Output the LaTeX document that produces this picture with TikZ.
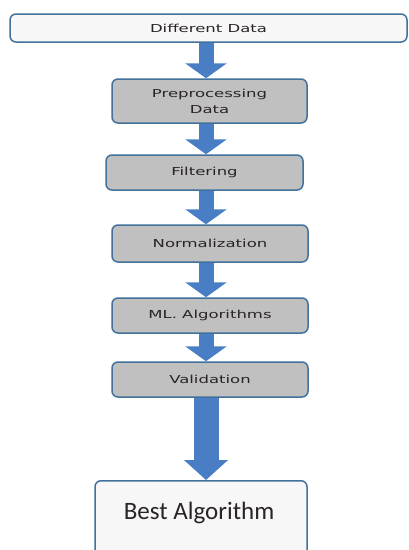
\documentclass[tikz,border=0pt]{standalone}
\usepackage{fontspec}
\setmainfont{DejaVu Sans}
\newfontfamily\bestfont{Carlito}
\usetikzlibrary{arrows.meta}
\definecolor{boxedge}{HTML}{41719C}
\definecolor{boxgray}{HTML}{C0C0C0}
\definecolor{boxlight}{HTML}{F7F7F7}
\definecolor{arrowblue}{HTML}{4A7EC4}
\definecolor{txt}{HTML}{2A2424}
\newcommand{\sx}[1]{\scalebox{1.5}[1]{#1}}
\begin{document}
\begin{tikzpicture}[x=1pt,y=-1pt,
  stepbox/.style={draw=boxedge, line width=1.5pt, rounded corners=6pt, fill=boxgray,
    minimum width=196pt, text=txt, font=\fontsize{11}{16}\selectfont, align=center, inner sep=0pt},
  lightbox/.style={stepbox, fill=boxlight},
  flow/.style={draw=arrowblue, line width=15pt,
    -{Triangle[width=41pt,length=15pt]}},
  bigflow/.style={draw=arrowblue, line width=25pt,
    -{Triangle[width=43pt,length=20pt]}}]
\useasboundingbox (0,0) rectangle (409,550);
\fill[white] (0,0) rectangle (409,550);
\coordinate (ax) at (206,0);
\node[lightbox, minimum width=397pt, minimum height=28pt] (top) at (208.5,28) {\sx{Different Data}};
\node[stepbox, minimum width=195pt, minimum height=44pt] (prep) at (209.5,101) {\sx{Preprocessing}\\\sx{Data}};
\node[stepbox, minimum width=197pt, minimum height=35pt] (filt) at (204.5,172.5) {\sx{Filtering}};
\node[stepbox, minimum height=37pt] (norm) at (210,243.5) {\sx{Normalization}};
\node[stepbox, minimum height=35pt] (ml) at (210,315.5) {\sx{ML. Algorithms}};
\node[stepbox, minimum height=35pt] (val) at (210,379.5) {\sx{Validation}};
\node[lightbox, minimum width=212pt, minimum height=90pt, anchor=north] (best) at (201,480) {};
\node[text=txt, font=\bestfont\fontsize{25}{30}\selectfont, inner sep=0pt] (bestlbl) at (199,513) {Best Algorithm};
\draw[flow] (top.south -| ax) -- (prep.north -| ax);
\draw[flow] (prep.south -| ax) -- (filt.north -| ax);
\draw[flow] (filt.south -| ax) -- (norm.north -| ax);
\draw[flow] (norm.south -| ax) -- (ml.north -| ax);
\draw[flow] (ml.south -| ax) -- (val.north -| ax);
\draw[bigflow] (val.south -| ax) -- (best.north -| ax);
\end{tikzpicture}
\end{document}
